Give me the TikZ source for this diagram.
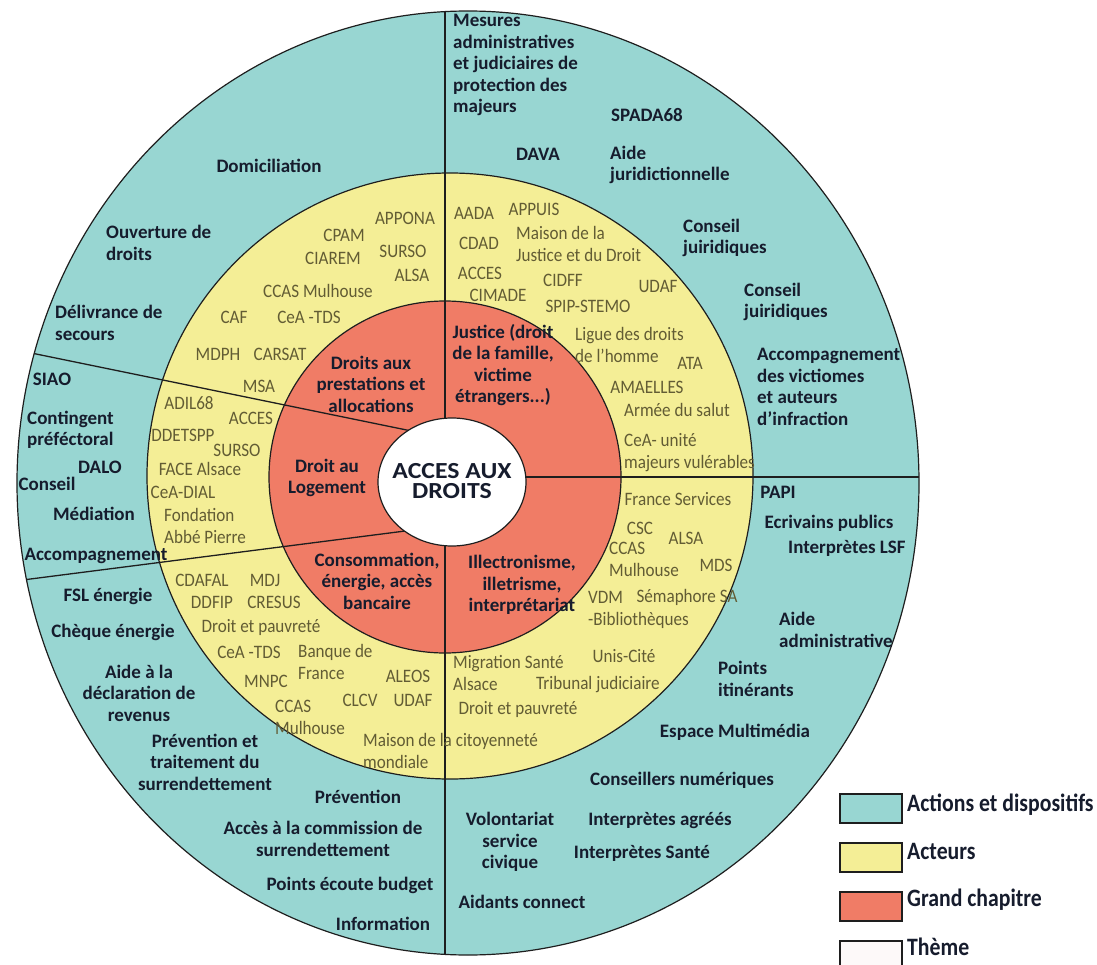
\documentclass[tikz,border=0pt]{standalone}
\usepackage{fontspec}
\setmainfont{Carlito}
\newfontfamily\actfont{Carlito}[FakeStretch=0.9]
\newfontfamily\legfont{Carlito}[FakeStretch=0.87]
\newfontfamily\ctrfont{Carlito}[FakeStretch=1.12]
\definecolor{ringteal}{RGB}{152,214,210}
\definecolor{ringyellow}{RGB}{244,238,150}
\definecolor{ringred}{RGB}{240,124,102}
\definecolor{txtdark}{RGB}{22,28,45}
\definecolor{txtolive}{RGB}{98,92,52}
\definecolor{linedark}{RGB}{30,30,30}
\definecolor{legwhite}{RGB}{253,249,249}
\tikzset{
  tx/.style={font=\fontsize{19}{21.5}\selectfont\bfseries, text=txtdark, inner sep=0pt, align=center},
  txl/.style={tx, align=left, anchor=west},
  ctr/.style={font=\ctrfont\fontsize{23}{20}\selectfont\bfseries, text=txtdark, inner sep=0pt, align=center},
  ac/.style={font=\actfont\fontsize{19}{22}\selectfont, text=txtolive, inner sep=0pt, align=center},
  acl/.style={ac, align=left, anchor=west},
  ringline/.style={draw=linedark, line width=1.2pt},
  divider/.style={draw=linedark, line width=1.3pt},
  legbox/.style={draw=linedark, line width=1.5pt},
  legtext/.style={font=\legfont\fontsize{25}{28}\selectfont\bfseries, text=txtdark, inner sep=0pt, anchor=west}
}
\begin{document}
\begin{tikzpicture}[x=1pt,y=-1pt]
\useasboundingbox (0,0) rectangle (1097,965);
\fill[white] (0,0) rectangle (1097,965);
% rings
\draw[ringline, fill=ringteal] (468,483) ellipse [x radius=451, y radius=472];
\draw[ringline, fill=ringyellow] (450,476) circle [radius=303];
\draw[ringline, fill=ringred] (445,477) circle [radius=176];
% dividers
\begin{scope}
  \clip (468,483) ellipse [x radius=451, y radius=472];
  \coordinate (vtop) at (445,0);
  \coordinate (vbot) at (445,965);
  \coordinate (hin) at (452,477);
  \coordinate (hout) at (1000,477);
  \coordinate (ulin) at (452,439.3);
  \coordinate (ulout) at (0,346.6);
  \coordinate (llin) at (452,525);
  \coordinate (llout) at (0,582.9);
  \draw[divider] (vtop) -- (vbot);
  \draw[divider] (hin) -- (hout);
  \draw[divider] (ulin) -- (ulout);
  \draw[divider] (llin) -- (llout);
\end{scope}
\draw[ringline, fill=white] (452,482) ellipse [x radius=74, y radius=64];
\node[ctr] (theme) at (452,481) {ACCES AUX\\DROITS};

% grand chapitres
\node[tx] (r1) at (371,384) {Droits aux\\prestations et\\allocations};
\node[tx] (r2) at (327,478) {Droit au\\Logement};
\node[tx] (r3) at (377,581) {Consommation,\\énergie, accès\\bancaire};
\node[tx] (r4) at (503,365) {Justice (droit\\de la famille,\\victime\\étrangers...)};
\node[tx] (r5) at (522,585) {Illectronisme,\\illetrisme,\\interprétariat};

% actions et dispositifs
\node[tx] (t1) at (269,166) {Domiciliation};
\node[txl] (t2) at (106,243) {Ouverture de\\droits};
\node[txl] (t3) at (55,323) {Délivrance de\\secours};
\node[tx] (t4) at (52,379) {SIAO};
\node[txl] (t5) at (27,430) {Contingent\\préféctoral};
\node[tx] (t6) at (100,467) {DALO};
\node[tx] (t7) at (47,484) {Conseil};
\node[tx] (t8) at (94,514) {Médiation};
\node[tx] (t9) at (96,556) {Accompagnement};
\node[tx] (t10) at (108,596) {FSL énergie};
\node[tx] (t11) at (113,632) {Chèque énergie};
\node[tx] (t12) at (139,693) {Aide à la\\déclaration de\\revenus};
\node[tx] (t13) at (205,762) {Prévention et\\traitement du\\surrendettement};
\node[tx] (t14) at (358,797) {Prévention};
\node[tx] (t15) at (323,839) {Accès à la commission de\\surrendettement};
\node[tx] (t16) at (350,885) {Points écoute budget};
\node[tx] (t17) at (383,924) {Information};
\node[txl] (t18) at (453,65) {Mesures\\administratives\\et judiciaires de\\protection des\\majeurs};
\node[tx] (t19) at (647,115) {SPADA68};
\node[tx] (t20) at (538,154) {DAVA};
\node[txl] (t21) at (610,165) {Aide\\juridictionnelle};
\node[txl] (t22) at (683,238) {Conseil\\juiridiques};
\node[txl] (t23) at (744,302) {Conseil\\juiridiques};
\node[txl] (t24) at (757,387) {Accompagnement\\des victiomes\\et auteurs\\d’infraction};
\node[tx] (t25) at (778,492) {PAPI};
\node[tx] (t26) at (829,523) {Ecrivains publics};
\node[txl] (t27) at (788,548) {Interprètes LSF};
\node[txl] (t28) at (779,630) {Aide\\administrative};
\node[txl] (t29) at (718,679) {Points\\itinérants};
\node[tx] (t30) at (735,732) {Espace Multimédia};
\node[tx] (t31) at (682,780) {Conseillers numériques};
\node[tx] (t32) at (510,842) {Volontariat\\service\\civique};
\node[tx] (t33) at (660,821) {Interprètes agréés};
\node[tx] (t34) at (642,853) {Interprètes Santé};
\node[tx] (t35) at (522,902) {Aidants connect};

% acteurs
\node[ac] (a1) at (405,218) {APPONA};
\node[ac] (a2) at (344,235) {CPAM};
\node[ac] (a3) at (403,251) {SURSO};
\node[ac] (a4) at (333,258) {CIAREM};
\node[ac] (a5) at (412,275) {ALSA};
\node[ac] (a6) at (318,291) {CCAS Mulhouse};
\node[ac] (a7) at (234,317) {CAF};
\node[ac] (a8) at (309,317) {CeA -TDS};
\node[ac] (a9) at (218,354) {MDPH};
\node[ac] (a10) at (280,354) {CARSAT};
\node[ac] (a11) at (259,386) {MSA};
\node[ac] (a12) at (189,403) {ADIL68};
\node[ac] (a13) at (251,418) {ACCES};
\node[ac] (a14) at (183,435) {DDETSPP};
\node[ac] (a15) at (237,450) {SURSO};
\node[ac] (a16) at (200,469) {FACE Alsace};
\node[ac] (a17) at (183,492) {CeA-DIAL};
\node[acl] (a18) at (164,526) {Fondation\\Abbé Pierre};
\node[ac] (a19) at (202,580) {CDAFAL};
\node[ac] (a20) at (265,580) {MDJ};
\node[ac] (a21) at (212,602) {DDFIP};
\node[ac] (a22) at (274,602) {CRESUS};
\node[ac] (a23) at (261,627) {Droit et pauvreté};
\node[ac] (a24) at (249,652) {CeA -TDS};
\node[acl] (a25) at (298,662) {Banque de\\France};
\node[ac] (a26) at (266,681) {MNPC};
\node[ac] (a27) at (408,676) {ALEOS};
\node[ac] (a28) at (360,700) {CLCV};
\node[ac] (a29) at (413,700) {UDAF};
\node[acl] (a30) at (275,717) {CCAS\\Mulhouse};
\node[acl] (a31) at (363,751) {Maison de la citoyenneté\\mondiale};
\node[ac] (a32) at (474,213) {AADA};
\node[ac] (a33) at (534,209) {APPUIS};
\node[ac] (a34) at (479,243) {CDAD};
\node[acl] (a35) at (516,244) {Maison de la\\Justice et du Droit};
\node[ac] (a36) at (480,273) {ACCES};
\node[ac] (a37) at (563,280) {CIDFF};
\node[ac] (a38) at (658,286) {UDAF};
\node[ac] (a39) at (498,295) {CIMADE};
\node[ac] (a40) at (588,306) {SPIP-STEMO};
\node[acl] (a41) at (575,345) {Ligue des droits\\de l’homme};
\node[ac] (a42) at (690,363) {ATA};
\node[ac] (a43) at (647,387) {AMAELLES};
\node[ac] (a44) at (677,410) {Armée du salut};
\node[acl] (a45) at (624,453) {CeA- unité\\majeurs vulérables};
\node[ac] (a46) at (678,499) {France Services};
\node[ac] (a47) at (640,528) {CSC};
\node[ac] (a48) at (686,538) {ALSA};
\node[acl] (a49) at (609,559) {CCAS\\Mulhouse};
\node[ac] (a50) at (716,565) {MDS};
\node[acl] (a51) at (588,610) {VDM\\-Bibliothèques};
\node[ac] (a52) at (687,597) {Sémaphore SA};
\node[acl] (a53) at (453,673) {Migration Santé\\Alsace};
\node[ac] (a54) at (624,656) {Unis-Cité};
\node[ac] (a55) at (598,685) {Tribunal judiciaire};
\node[ac] (a56) at (518,709) {Droit et pauvreté};

% legend
\draw[legbox, fill=ringteal] (840,794) rectangle (902,823);
\draw[legbox, fill=ringyellow] (840,843) rectangle (902,872);
\draw[legbox, fill=ringred] (840,892) rectangle (902,921);
\draw[legbox, fill=legwhite] (840,941) rectangle (902,975);
\node[legtext] (l1) at (907,805) {Actions et dispositifs};
\node[legtext] (l2) at (907,851) {Acteurs};
\node[legtext] (l3) at (907,900) {Grand chapitre};
\node[legtext] (l4) at (907,947) {Thème};
\end{tikzpicture}
\end{document}
